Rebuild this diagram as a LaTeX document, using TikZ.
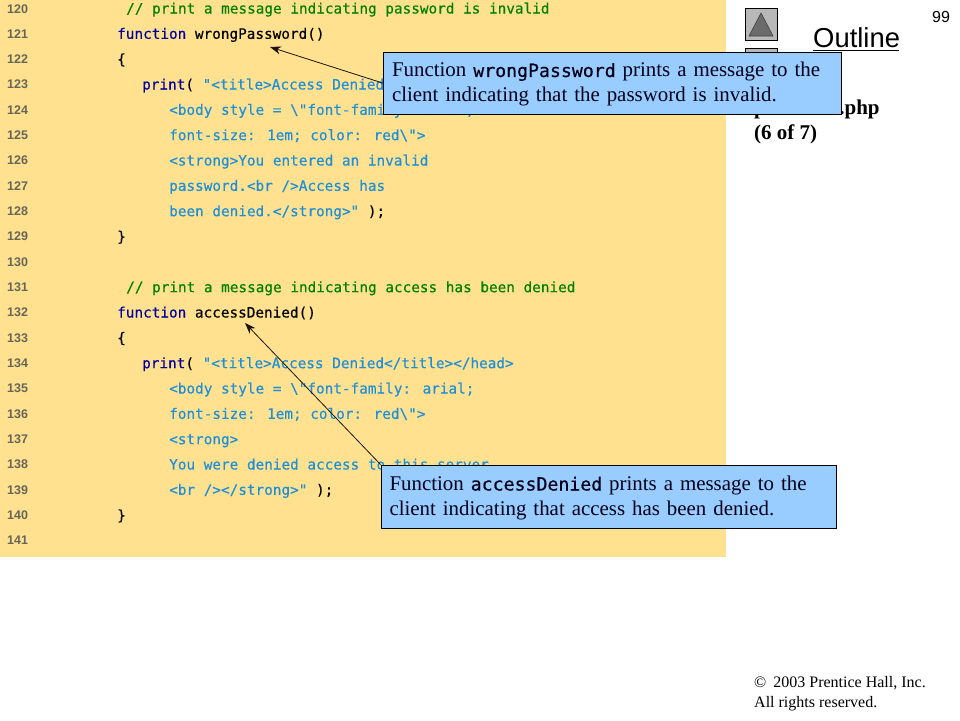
\documentclass[tikz,border=0pt]{standalone}
\usepackage{fontspec}
\setmainfont{Liberation Serif}
\newfontfamily\codefont[FakeBold=0.35]{DejaVu Sans Mono}
\newfontfamily\calloutmono[FakeBold=0.4]{DejaVu Sans Mono}
\newfontfamily\numfont{Liberation Sans}
\usetikzlibrary{arrows.meta}
\definecolor{panel}{HTML}{FFE18F}
\definecolor{calloutblue}{HTML}{99CCFF}
\definecolor{cmt}{HTML}{008000}
\definecolor{kw}{HTML}{00009F}
\definecolor{str}{HTML}{1E90D8}
\definecolor{numgray}{HTML}{666658}
\newcommand{\cmt}[1]{\textcolor{cmt}{#1}}
\newcommand{\kw}[1]{\textcolor{kw}{#1}}
\newcommand{\str}[1]{\textcolor{str}{#1}}
\newcommand{\bs}{\textbackslash}
\newcommand{\mon}[1]{{\calloutmono\fontsize{18.2}{25}\selectfont #1}}
\tikzset{
  x=1pt,y=-1pt,
  codeline/.style={anchor=base west,inner sep=0pt,font=\codefont\fontsize{14.35}{16}\selectfont},
  lineno/.style={anchor=base west,inner sep=0pt,text=numgray,font=\numfont\bfseries\fontsize{12.5}{14}\selectfont},
  callout/.style={draw=black,line width=0.9pt,fill=calloutblue,inner sep=0pt,align=left,text=black!90!blue,
    font=\fontsize{20.9}{25}\selectfont},
  pointer/.style={draw=black!85!brown,line width=0.8pt,-{Stealth[length=11pt,width=8pt]}},
  sidetext/.style={anchor=base west,inner sep=0pt,font=\bfseries\fontsize{21}{24}\selectfont},
  foot/.style={anchor=base west,inner sep=0pt,font=\fontsize{16}{18}\selectfont},
  navbtn/.style={draw=black,line width=0.8pt,fill=black!28},
  navtri/.style={draw=black!75,line width=0.6pt,fill=black!58},
}
\begin{document}
\begin{tikzpicture}
\useasboundingbox (0,0) rectangle (960,720);
\fill[white] (0,0) rectangle (960,720);
\fill[panel] (0,0) rectangle (726,557);

% line numbers
\foreach \n [count=\i from 0] in {120,...,141}
  \node[lineno] (n\n) at (7,{13+25.33*\i}) {\n};

% code
\node[codeline] (c120) at (126,13.5) {\cmt{// print a message indicating password is invalid}};
\node[codeline] (c121) at (117,38.8) {\kw{function} wrongPassword()};
\node[codeline] (c122) at (117,64.2) {\{};
\node[codeline] (c123) at (142,89.5) {\kw{print}( \str{"<title>Access Denied</title></head>}};
\node[codeline] (c124) at (169,114.8) {\str{<body style = \bs"font-family: arial;}};
\node[codeline] (c125) at (169,140.2) {\str{font-size: 1em; color: red\bs">}};
\node[codeline] (c126) at (169,165.5) {\str{<strong>You entered an invalid}};
\node[codeline] (c127) at (169,190.8) {\str{password.<br />Access has}};
\node[codeline] (c128) at (169,216.2) {\str{been denied.</strong>"} );};
\node[codeline] (c129) at (117,241.5) {\}};
\node[codeline] (c131) at (126,292.2) {\cmt{// print a message indicating access has been denied}};
\node[codeline] (c132) at (117,317.5) {\kw{function} accessDenied()};
\node[codeline] (c133) at (117,342.8) {\{};
\node[codeline] (c134) at (142,368.2) {\kw{print}( \str{"<title>Access Denied</title></head>}};
\node[codeline] (c135) at (169,393.5) {\str{<body style = \bs"font-family: arial;}};
\node[codeline] (c136) at (169,418.8) {\str{font-size: 1em; color: red\bs">}};
\node[codeline] (c137) at (169,444.2) {\str{<strong>}};
\node[codeline] (c138) at (169,469.5) {\str{You were denied access to this server.}};
\node[codeline] (c139) at (169,494.8) {\str{<br /></strong>"} );};
\node[codeline] (c140) at (117,520.2) {\}};

% side panel
\node[navbtn,minimum width=32pt,minimum height=32pt,inner sep=0pt] (up) at (761,24.5) {};
\fill[navtri] (761,13) -- (773,36) -- (749,36) -- cycle;
\node[navbtn,minimum width=32pt,minimum height=32pt,inner sep=0pt] (down) at (761,64) {};
\node[anchor=base west,inner sep=0pt,font=\numfont\fontsize{27.4}{32}\selectfont] (outline) at (813,47.5) {Outline};
\draw[line width=1.6pt] (outline.base west) ++(0,3) -- ++(86,0);
\node[anchor=base west,inner sep=0pt,font=\numfont\fontsize{16}{18}\selectfont] (pageno) at (932,22) {99};
\node[sidetext] (file) at (754,114.5) {password.php};
\node[sidetext] (part) at (754,139) {(6 of 7)};
\node[foot] (f1) at (754,687) {\textcopyright\hspace{7pt}2003 Prentice Hall, Inc.};
\node[foot] (f2) at (754,707) {All rights reserved.};

% callouts
\node[callout,minimum width=458pt,minimum height=62pt,text width=440pt] (box1) at (612,83)
  {\rule{0pt}{17.5pt}Function \mon{wrongPassword} prints a message to the\\client indicating that the password is invalid.};
\node[callout,minimum width=455pt,minimum height=63pt,text width=438pt] (box2) at (608.5,496.5)
  {\rule{0pt}{17.5pt}Function \mon{accessDenied} prints a message to the\\client indicating that access has been denied.};

% connectors
\coordinate (tip1) at (270,47);
\coordinate (tip2) at (245,323);
\draw[pointer] (box1.west) -- (tip1);
\draw[pointer] (box2.north west) -- (tip2);
\end{tikzpicture}
\end{document}
